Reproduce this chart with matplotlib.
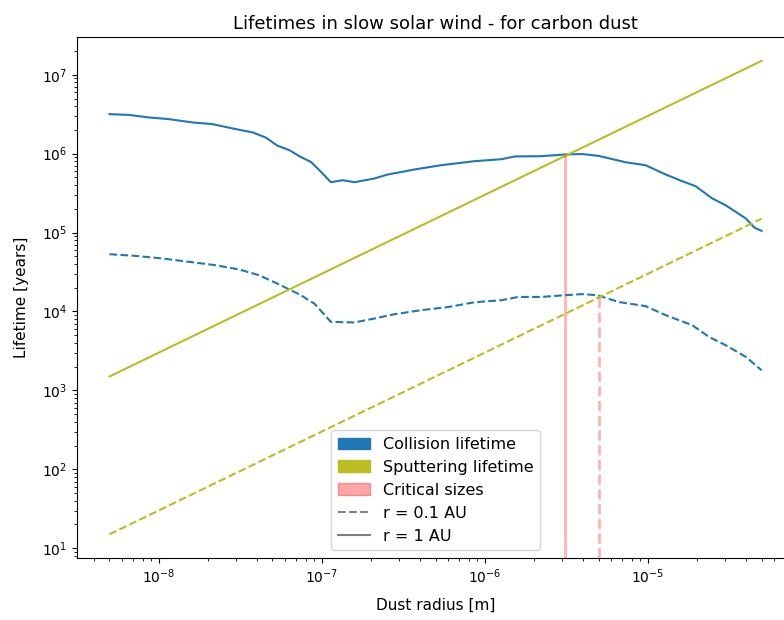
import numpy as np
import matplotlib
matplotlib.use("Agg")
import matplotlib.pyplot as plt
import matplotlib.patches as mpatches
from matplotlib.lines import Line2D

# collision lifetime at 1 AU (solid) [m], [years]
r_coll_1au = [5e-9, 6.57e-9, 8.7e-9, 1.156e-8, 1.61e-8, 2.14e-8, 2.84e-8, 3.78e-8,
              4.55e-8, 5.37e-8, 6.34e-8, 7.29e-8, 8.6e-8, 9.93e-8, 1.14e-7, 1.35e-7,
              1.59e-7, 2.11e-7, 2.55e-7, 3.72e-7, 5.43e-7, 8.7e-7, 1.27e-6, 1.53e-6,
              2.24e-6, 3.12e-6, 3.95e-6, 5.0e-6, 7.3e-6, 9.7e-6, 1.29e-5, 1.63e-5,
              1.97e-5, 2.49e-5, 3.01e-5, 4.0e-5, 4.51e-5, 5.0e-5]
t_coll_1au = [3.17e6, 3.10e6, 2.88e6, 2.74e6, 2.49e6, 2.37e6, 2.09e6, 1.86e6,
              1.60e6, 1.26e6, 1.11e6, 9.3e5, 7.87e5, 5.88e5, 4.35e5, 4.61e5,
              4.35e5, 4.85e5, 5.45e5, 6.31e5, 7.15e5, 8.04e5, 8.51e5, 9.22e5,
              9.3e5, 9.77e5, 9.9e5, 9.38e5, 7.8e5, 7.15e5, 5.45e5, 4.48e5,
              3.87e5, 2.71e5, 2.22e5, 1.51e5, 1.16e5, 1.05e5]

# collision lifetime at 0.1 AU (dashed)
r_coll_01au = [5e-9, 7.22e-9, 1.05e-8, 1.54e-8, 2.24e-8, 3.12e-8, 4.14e-8, 5.25e-8,
               6.34e-8, 7.48e-8, 8.03e-8, 9.03e-8, 1.14e-7, 1.59e-7, 2.11e-7, 2.81e-7,
               4.09e-7, 5.98e-7, 8.7e-7, 1.27e-6, 1.61e-6, 2.24e-6, 3.12e-6, 3.95e-6,
               4.9e-6, 6.65e-6, 9.7e-6, 1.29e-5, 1.88e-5, 2.38e-5, 3.01e-5, 4.0e-5,
               5.0e-5]
t_coll_01au = [5.32e4, 5.07e4, 4.70e4, 4.26e4, 3.86e4, 3.41e4, 2.88e4, 2.30e4,
               1.90e4, 1.61e4, 1.46e4, 1.26e4, 7.4e3, 7.26e3, 8.15e3, 9.25e3,
               1.04e4, 1.14e4, 1.31e4, 1.39e4, 1.53e4, 1.53e4, 1.61e4, 1.66e4,
               1.61e4, 1.32e4, 1.17e4, 8.98e3, 6.70e3, 4.76e3, 3.74e3, 2.66e3,
               1.80e3]

# sputtering lifetime (straight line in log-log)
r_sput = [5e-9, 5e-5]
t_sput_1au = [1.5e3, 1.5e7]
t_sput_01au = [1.5e1, 1.5e5]

# critical sizes where the two lifetimes cross
r_crit = [3.1e-6, 5.0e-6]
t_crit = [9.6e5, 1.6e4]

blue = "tab:blue"
olive = "tab:olive"

fig = plt.figure(figsize=(7.84, 6.2), dpi=100)
# axes run slightly past the right edge of the canvas
ax = fig.add_axes([0.098, 0.1, 0.915, 0.84])

ax.loglog(r_coll_1au, t_coll_1au, color=blue, ls="-")
ax.loglog(r_coll_01au, t_coll_01au, color=blue, ls="--")
ax.loglog(r_sput, t_sput_1au, color=olive, ls="-")
ax.loglog(r_sput, t_sput_01au, color=olive, ls="--")

# vertical markers from the bottom of the axes up to the crossing
ylo, yhi = ax.get_ylim()
ax.vlines(r_crit[0], ylo, t_crit[0], color="red", alpha=0.3, ls="-", lw=2)
ax.vlines(r_crit[1], ylo, t_crit[1], color="red", alpha=0.3, ls="--", lw=2)
ax.set_ylim(ylo, yhi)

handles = [
    mpatches.Patch(color=blue, label="Collision lifetime"),
    mpatches.Patch(color=olive, label="Sputtering lifetime"),
    mpatches.Patch(color="red", alpha=0.35, label="Critical sizes"),
    Line2D([], [], color="gray", ls="--", label="r = 0.1 AU"),
    Line2D([], [], color="gray", ls="-", label="r = 1 AU"),
]
ax.legend(handles=handles, loc="lower center", fontsize=11.5)

ax.set_title("Lifetimes in slow solar wind - for carbon dust", fontsize=13)
ax.set_xlabel("Dust radius [m]", fontsize=11, labelpad=8)
ax.set_ylabel("Lifetime [years]", fontsize=11, labelpad=9)

fig.savefig("out.png", dpi=100)
